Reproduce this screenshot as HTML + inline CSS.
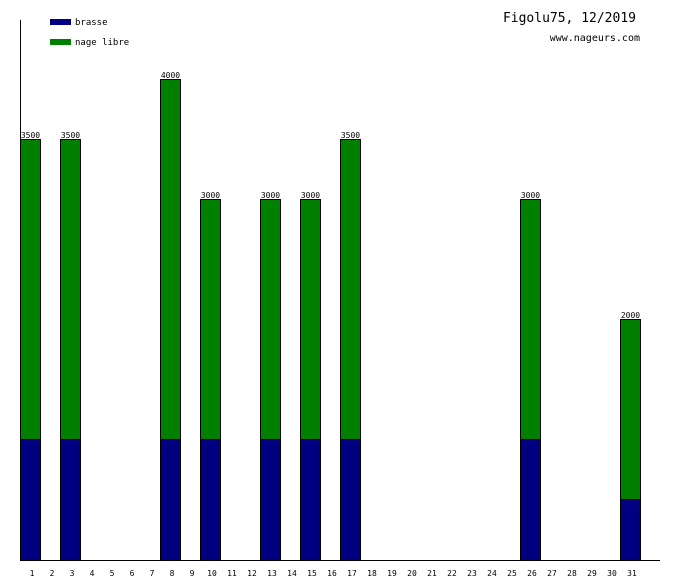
<!DOCTYPE html>
<html><head><meta charset="utf-8"><style>
body{margin:0;background:#fff;}
svg text{font-family:"DejaVu Sans Mono","Liberation Mono",monospace;}
</style></head><body>
<svg width="680" height="580" viewBox="0 0 680 580" id="c">
<rect x="50" y="19" width="21" height="6" fill="#000080"/>
<text x="75" y="25" font-size="9">brasse</text>
<rect x="50" y="39" width="21" height="6" fill="#008000"/>
<text x="75" y="45" font-size="9">nage libre</text>
<text x="636" y="22" font-size="13" text-anchor="end">Figolu75, 12/2019</text>
<text x="640" y="41" font-size="10" text-anchor="end">www.nageurs.com</text>
<g id="bars"></g>
<line x1="20.5" y1="20" x2="20.5" y2="560" stroke="#000"/>
<line x1="20" y1="560.5" x2="660" y2="560.5" stroke="#000"/>
<g id="ticks"></g>
</svg>
<script>
const days=[1,3,8,10,13,15,17,26,31];
const brasse=[1000,1000,1000,1000,1000,1000,1000,1000,500];
const nageLibre=[2500,2500,3000,2000,2000,2000,2500,2000,1500];
const dayLabels=Array.from({length:31},(_,i)=>String(i+1));
const NS="http://www.w3.org/2000/svg";
const xOf=d=>20+(d-1)*20;
const yOf=v=>559-v*0.12;
const bars=document.getElementById('bars');
function mk(tag,attrs,parent){const e=document.createElementNS(NS,tag);for(const k in attrs)e.setAttribute(k,attrs[k]);parent.appendChild(e);return e;}
days.forEach((d,i)=>{
  const b=brasse[i],n=nageLibre[i],t=b+n,x=xOf(d);
  const r1=mk('rect',{x:x+0.5,y:yOf(b)+0.5,width:20,height:b*0.12+1,fill:'#000080',stroke:'#000','stroke-width':1},bars);
  
  
  const r2=mk('rect',{x:x+0.5,y:yOf(t)+0.5,width:20,height:n*0.12,fill:'#008000',stroke:'#000','stroke-width':1},bars);
  
  
  const tx=mk('text',{x:x+10.5,y:yOf(t)-1,'font-size':8,'text-anchor':'middle'},bars);
  tx.textContent=String(t);
  
  
});
const ticks=document.getElementById('ticks');
dayLabels.forEach((l,i)=>{
  const tx=mk('text',{x:xOf(i+1)+12,y:576,'font-size':8,'text-anchor':'middle'},ticks);
  tx.textContent=l;
  
  
});
</script>
</body></html>
